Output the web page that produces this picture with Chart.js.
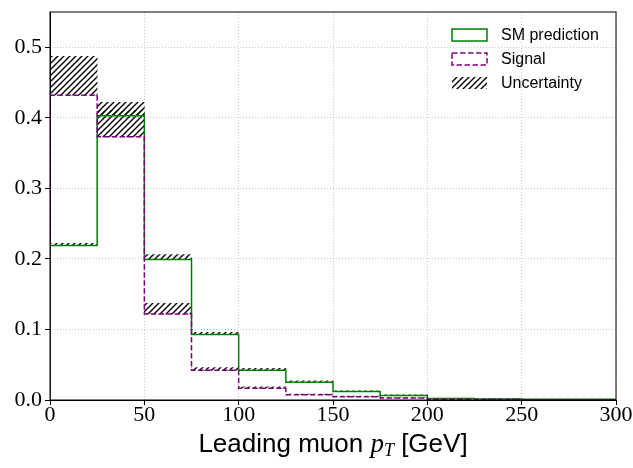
<!DOCTYPE html>
<html>
<head>
<meta charset="utf-8">
<script src="https://cdn.jsdelivr.net/npm/chart.js@4/dist/chart.umd.min.js"></script>
<style>
    html, body { margin: 0; padding: 0; background: #fff; }
    #wrap { width: 633px; height: 468px; }
</style>
</head>
<body>
<div id="wrap"><canvas id="histChart"></canvas></div>
<script>
// bin edges (GeV) and normalised contents per bin
const binEdges = [0, 25, 50, 75, 100, 125, 150, 175, 200, 225, 250, 275, 300];
const smValues = [0.219, 0.403, 0.199, 0.093, 0.042, 0.025, 0.012, 0.0063, 0.002, 0.0015, 0.001, 0.001];
const signalValues = [0.432, 0.373, 0.122, 0.042, 0.0166, 0.0075, 0.0047, 0.003, 0.0012, 0.0006, 0.0005, 0.0005];
const smErrors = [0.003, 0.008, 0.007, 0.003, 0.003, 0.002, 0.001, 0.001, 0, 0, 0, 0];
const signalErrors = [0.055, 0.049, 0.015, 0.004, 0.002, 0.001, 0.001, 0, 0, 0, 0, 0];
const xTicks = [0, 50, 100, 150, 200, 250, 300];
const yTicks = [0.0, 0.1, 0.2, 0.3, 0.4, 0.5];

const smColor = '#008000';
const signalColor = '#800080';

// step outline from the bin contents (closed down to zero at both ends)
function stepPoints(values) {
    const pts = [{ x: binEdges[0], y: 0 }];
    values.forEach((v, i) => pts.push({ x: binEdges[i], y: v }));
    pts.push({ x: binEdges[binEdges.length - 1], y: values[values.length - 1] });
    pts.push({ x: binEdges[binEdges.length - 1], y: 0 });
    return pts;
}

// floating bars value -> value + error at bin centres
function errorBars(values, errors) {
    return values.map((v, i) => ({
        x: (binEdges[i] + binEdges[i + 1]) / 2,
        y: [v, v + errors[i]]
    }));
}

const canvas = document.getElementById('histChart');
const ctx = canvas.getContext('2d');

// "////" hatch
const tile = document.createElement('canvas');
tile.width = 6;
tile.height = 6;
const tctx = tile.getContext('2d');
tctx.strokeStyle = '#000';
tctx.lineWidth = 1.4;
tctx.beginPath();
tctx.moveTo(0, 6); tctx.lineTo(6, 0);
tctx.moveTo(-1, 1); tctx.lineTo(1, -1);
tctx.moveTo(5, 7); tctx.lineTo(7, 5);
tctx.stroke();
const hatch = ctx.createPattern(tile, 'repeat');

const framePlugin = {
    id: 'frame',
    afterDraw(chart) {
        const { ctx, chartArea: a } = chart;
        ctx.save();
        ctx.strokeStyle = '#000';
        ctx.lineWidth = 1;
        ctx.strokeRect(a.left, a.top, a.right - a.left, a.bottom - a.top);

        // x axis title with p_T
        ctx.fillStyle = '#000';
        ctx.textBaseline = 'alphabetic';
        const parts = [
            { t: 'Leading muon ', f: '26px "Liberation Sans"', dy: 0 },
            { t: 'p', f: 'italic 27px "Liberation Serif"', dy: 0 },
            { t: 'T', f: 'italic 18px "Liberation Serif"', dy: 4 },
            { t: ' [GeV]', f: '26px "Liberation Sans"', dy: 0 }
        ];
        let total = 0;
        parts.forEach(p => { ctx.font = p.f; p.w = ctx.measureText(p.t).width; total += p.w; });
        let x = (a.left + a.right) / 2 - total / 2;
        parts.forEach(p => { ctx.font = p.f; ctx.fillText(p.t, x, 452 + p.dy); x += p.w; });

        // legend
        const items = chart.data.datasets.filter(d => d.legendLabel);
        items.sort((p, q) => p.legendRank - q.legendRank);
        ctx.font = '16px "Liberation Sans"';
        ctx.textBaseline = 'middle';
        items.forEach((d, i) => {
            const cy = a.top + 23 + i * 24;
            const bx = a.right - 164;
            ctx.save();
            if (d.type === 'bar') {
                ctx.fillStyle = hatch;
                ctx.fillRect(bx, cy - 6, 35, 12);
            } else {
                ctx.strokeStyle = d.borderColor;
                ctx.lineWidth = 1.5;
                ctx.setLineDash(d.borderDash || []);
                ctx.strokeRect(bx, cy - 6, 35, 12);
            }
            ctx.restore();
            ctx.fillStyle = '#000';
            ctx.fillText(d.legendLabel, a.right - 115, cy + 1);
        });
        ctx.restore();
    }
};

const gridOpts = {
    offset: false,
    color: '#b8b8b8',
    lineWidth: 0.8,
    tickLength: 5,
    tickColor: '#000',
    tickWidth: 1,
    tickBorderDash: []
};

new Chart(ctx, {
    type: 'line',
    data: {
        datasets: [
            {
                type: 'line',
                label: 'Signal',
                legendLabel: 'Signal',
                legendRank: 1,
                data: stepPoints(signalValues),
                stepped: 'before',
                borderColor: signalColor,
                borderWidth: 1.5,
                borderDash: [5.5, 2.5],
                pointRadius: 0,
                fill: false,
                order: 0
            },
            {
                type: 'line',
                label: 'SM prediction',
                legendLabel: 'SM prediction',
                legendRank: 0,
                data: stepPoints(smValues),
                stepped: 'before',
                borderColor: smColor,
                borderWidth: 1.5,
                pointRadius: 0,
                fill: false,
                order: 1
            },
            {
                type: 'bar',
                label: 'Uncertainty',
                legendLabel: 'Uncertainty',
                legendRank: 2,
                data: errorBars(signalValues, signalErrors),
                backgroundColor: hatch,
                borderWidth: 0,
                grouped: false,
                barPercentage: 1,
                categoryPercentage: 1,
                order: 2
            },
            {
                type: 'bar',
                label: 'Uncertainty (SM)',
                data: errorBars(smValues, smErrors),
                backgroundColor: hatch,
                borderWidth: 0,
                grouped: false,
                barPercentage: 1,
                categoryPercentage: 1,
                order: 2
            }
        ]
    },
    options: {
        responsive: true,
        maintainAspectRatio: false,
        animation: false,
        layout: { padding: { top: 12, right: 17, left: 0, bottom: 0 } },
        plugins: {
            legend: { display: false },
            tooltip: { enabled: false }
        },
        scales: {
            x: {
                type: 'linear',
                min: 0,
                max: 300,
                offset: false,
                afterBuildTicks: s => { s.ticks = xTicks.map(v => ({ value: v })); },
                afterFit: s => { s.height = 68; s.paddingLeft = 0; s.paddingRight = 0; },
                ticks: {
                    color: '#000',
                    font: { family: '"Liberation Serif"', size: 22 },
                    padding: -3,
                    maxRotation: 0,
                    autoSkip: false
                },
                grid: gridOpts,
                border: { display: true, color: '#000', width: 1, dash: [1, 2] }
            },
            y: {
                min: 0,
                max: 0.55,
                afterBuildTicks: s => { s.ticks = yTicks.map(v => ({ value: v })); },
                afterFit: s => { s.width = 50; s.paddingTop = 0; s.paddingBottom = 0; },
                ticks: {
                    color: '#000',
                    font: { family: '"Liberation Serif"', size: 22 },
                    padding: 3,
                    callback: v => v.toFixed(1)
                },
                grid: gridOpts,
                border: { display: true, color: '#000', width: 1, dash: [1, 2] }
            }
        }
    },
    plugins: [framePlugin]
});
</script>
</body>
</html>
